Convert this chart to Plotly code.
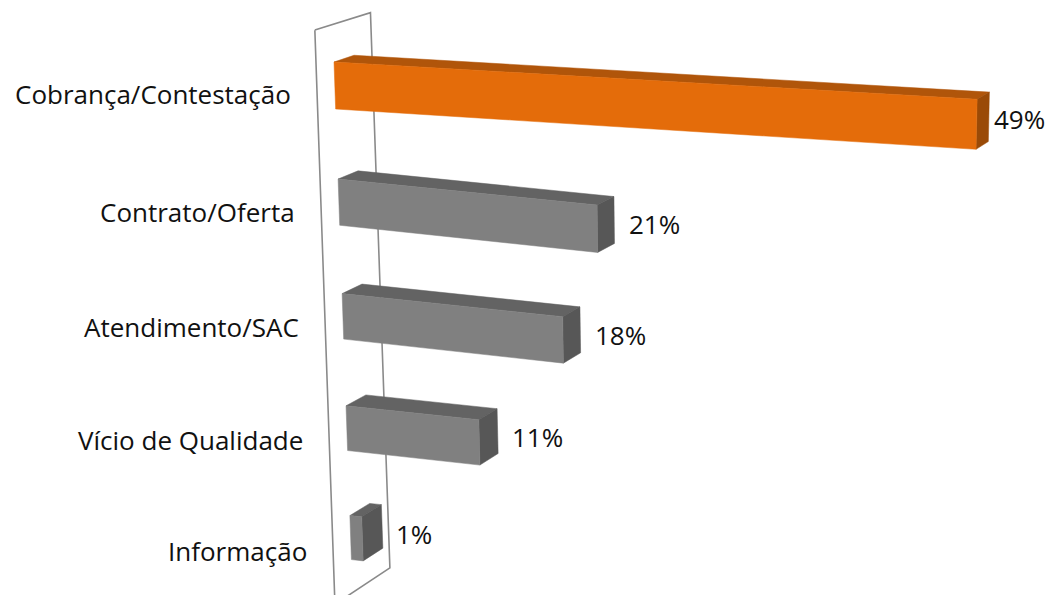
import numpy as np
import plotly.graph_objects as go

# Chart data
categories = ["Cobrança/Contestação", "Contrato/Oferta", "Atendimento/SAC",
              "Vício de Qualidade", "Informação"]
values = [49, 21, 18, 11, 1]
value_labels = ["49%", "21%", "18%", "11%", "1%"]
highlight = [True, False, False, False, False]

W, H = 1046, 595

# Perspective settings (screen pixels) for the 3D look
X0, Y0 = 334, 62          # front-top-left corner of first bar
ROW_STEP, ROW_SHRINK = 117, 1.2
BAR_H, BAR_H_SHRINK = 47, 0.75
LEAN = 0.035
PX_PER_PCT, PERSP_X = 11.8, 0.00206
VP = (2000, -500)         # vanishing point of the depth axis
BAR_DEPTH = 0.012
WALL_FRONT, WALL_DEPTH = -0.0107, 0.033
WALL_PAD_TOP, WALL_PAD_BOTTOM = 61, 55

COLORS = {
    True:  {"front": "#E46C0A", "top": "#B0550A", "side": "#9A4A07"},
    False: {"front": "#808080", "top": "#636363", "side": "#575757"},
}
FONT = dict(family="Open Sans, Noto Sans, sans-serif", size=26, color="#111111")


def row_top(r):
    return Y0 + ROW_STEP * r - ROW_SHRINK * r * (r - 1)


def bar_height(r):
    return BAR_H - BAR_H_SHRINK * r


def front(v, u, dh=0.0):
    s = PX_PER_PCT * v / (1 - PERSP_X * v)
    slope = 0.105 - 0.047 * np.exp(-(u - Y0) / 50)
    lean = LEAN - 0.00009 * s
    x = X0 + LEAN * (u - Y0) + s + lean * dh
    y = u + slope * s + dh * (1 + 0.0001 * s)
    return x, y


def shift(p, t):
    return p[0] + t * (VP[0] - p[0]), p[1] + t * (VP[1] - p[1])


def poly(points, fill, line_color=None, width=0.5):
    xs = [p[0] for p in points] + [points[0][0]]
    ys = [p[1] for p in points] + [points[0][1]]
    return go.Scatter(
        x=xs, y=ys, mode="lines", fill="toself", fillcolor=fill,
        line=dict(color=line_color or fill, width=width),
        hoverinfo="skip", showlegend=False,
    )


fig = go.Figure()

# Side wall at value 0
c_first = row_top(0) + bar_height(0) / 2
c_last = row_top(4) + bar_height(4) / 2
wf_top = shift(front(0, c_first - WALL_PAD_TOP), WALL_FRONT)
wf_bot = shift(front(0, c_last + WALL_PAD_BOTTOM), WALL_FRONT)
wb_top = shift(wf_top, WALL_DEPTH)
wb_bot = shift(wf_bot, WALL_DEPTH)
fig.add_trace(poly([wf_top, wb_top, wb_bot, wf_bot], "white", "#8A8A8A", 1.6))

# Bars
for r, (cat, v, lab, hi) in enumerate(zip(categories, values, value_labels, highlight)):
    u, hh = row_top(r), bar_height(r)
    col = COLORS[hi]
    ftl, ftr = front(0, u), front(v, u)
    fbl, fbr = front(0, u, hh), front(v, u, hh)
    btl, btr, bbr = shift(ftl, BAR_DEPTH), shift(ftr, BAR_DEPTH), shift(fbr, BAR_DEPTH)

    fig.add_trace(poly([ftl, ftr, btr, btl], col["top"]))
    fig.add_trace(poly([ftr, btr, bbr, fbr], col["side"]))
    fig.add_trace(poly([ftl, ftr, fbr, fbl], col["front"]))

    # value label
    lx = min(btr[0] + 13, W - 54)
    ly = (ftr[1] + fbr[1]) / 2 - 5
    fig.add_annotation(x=lx, y=ly, text=lab, showarrow=False,
                       xanchor="left", yanchor="middle", font=FONT)

    # category label next to the wall
    cx, cy = shift(front(0, u + hh / 2), WALL_FRONT)
    fig.add_annotation(x=cx - 24, y=cy + 2, text=cat, showarrow=False,
                       xanchor="right", yanchor="middle", font=FONT)

fig.update_layout(
    width=W, height=H,
    margin=dict(l=0, r=0, t=0, b=0),
    paper_bgcolor="white", plot_bgcolor="white",
    xaxis=dict(range=[0, W], visible=False, fixedrange=True),
    yaxis=dict(range=[H, 0], visible=False, fixedrange=True),
    showlegend=False,
)

# drop the page's default body margin so the chart fills the window
fig.write_html(
    "out.html",
    config={"displayModeBar": False},
    post_script="document.body.style.margin='0';document.body.style.overflow='hidden';",
)
